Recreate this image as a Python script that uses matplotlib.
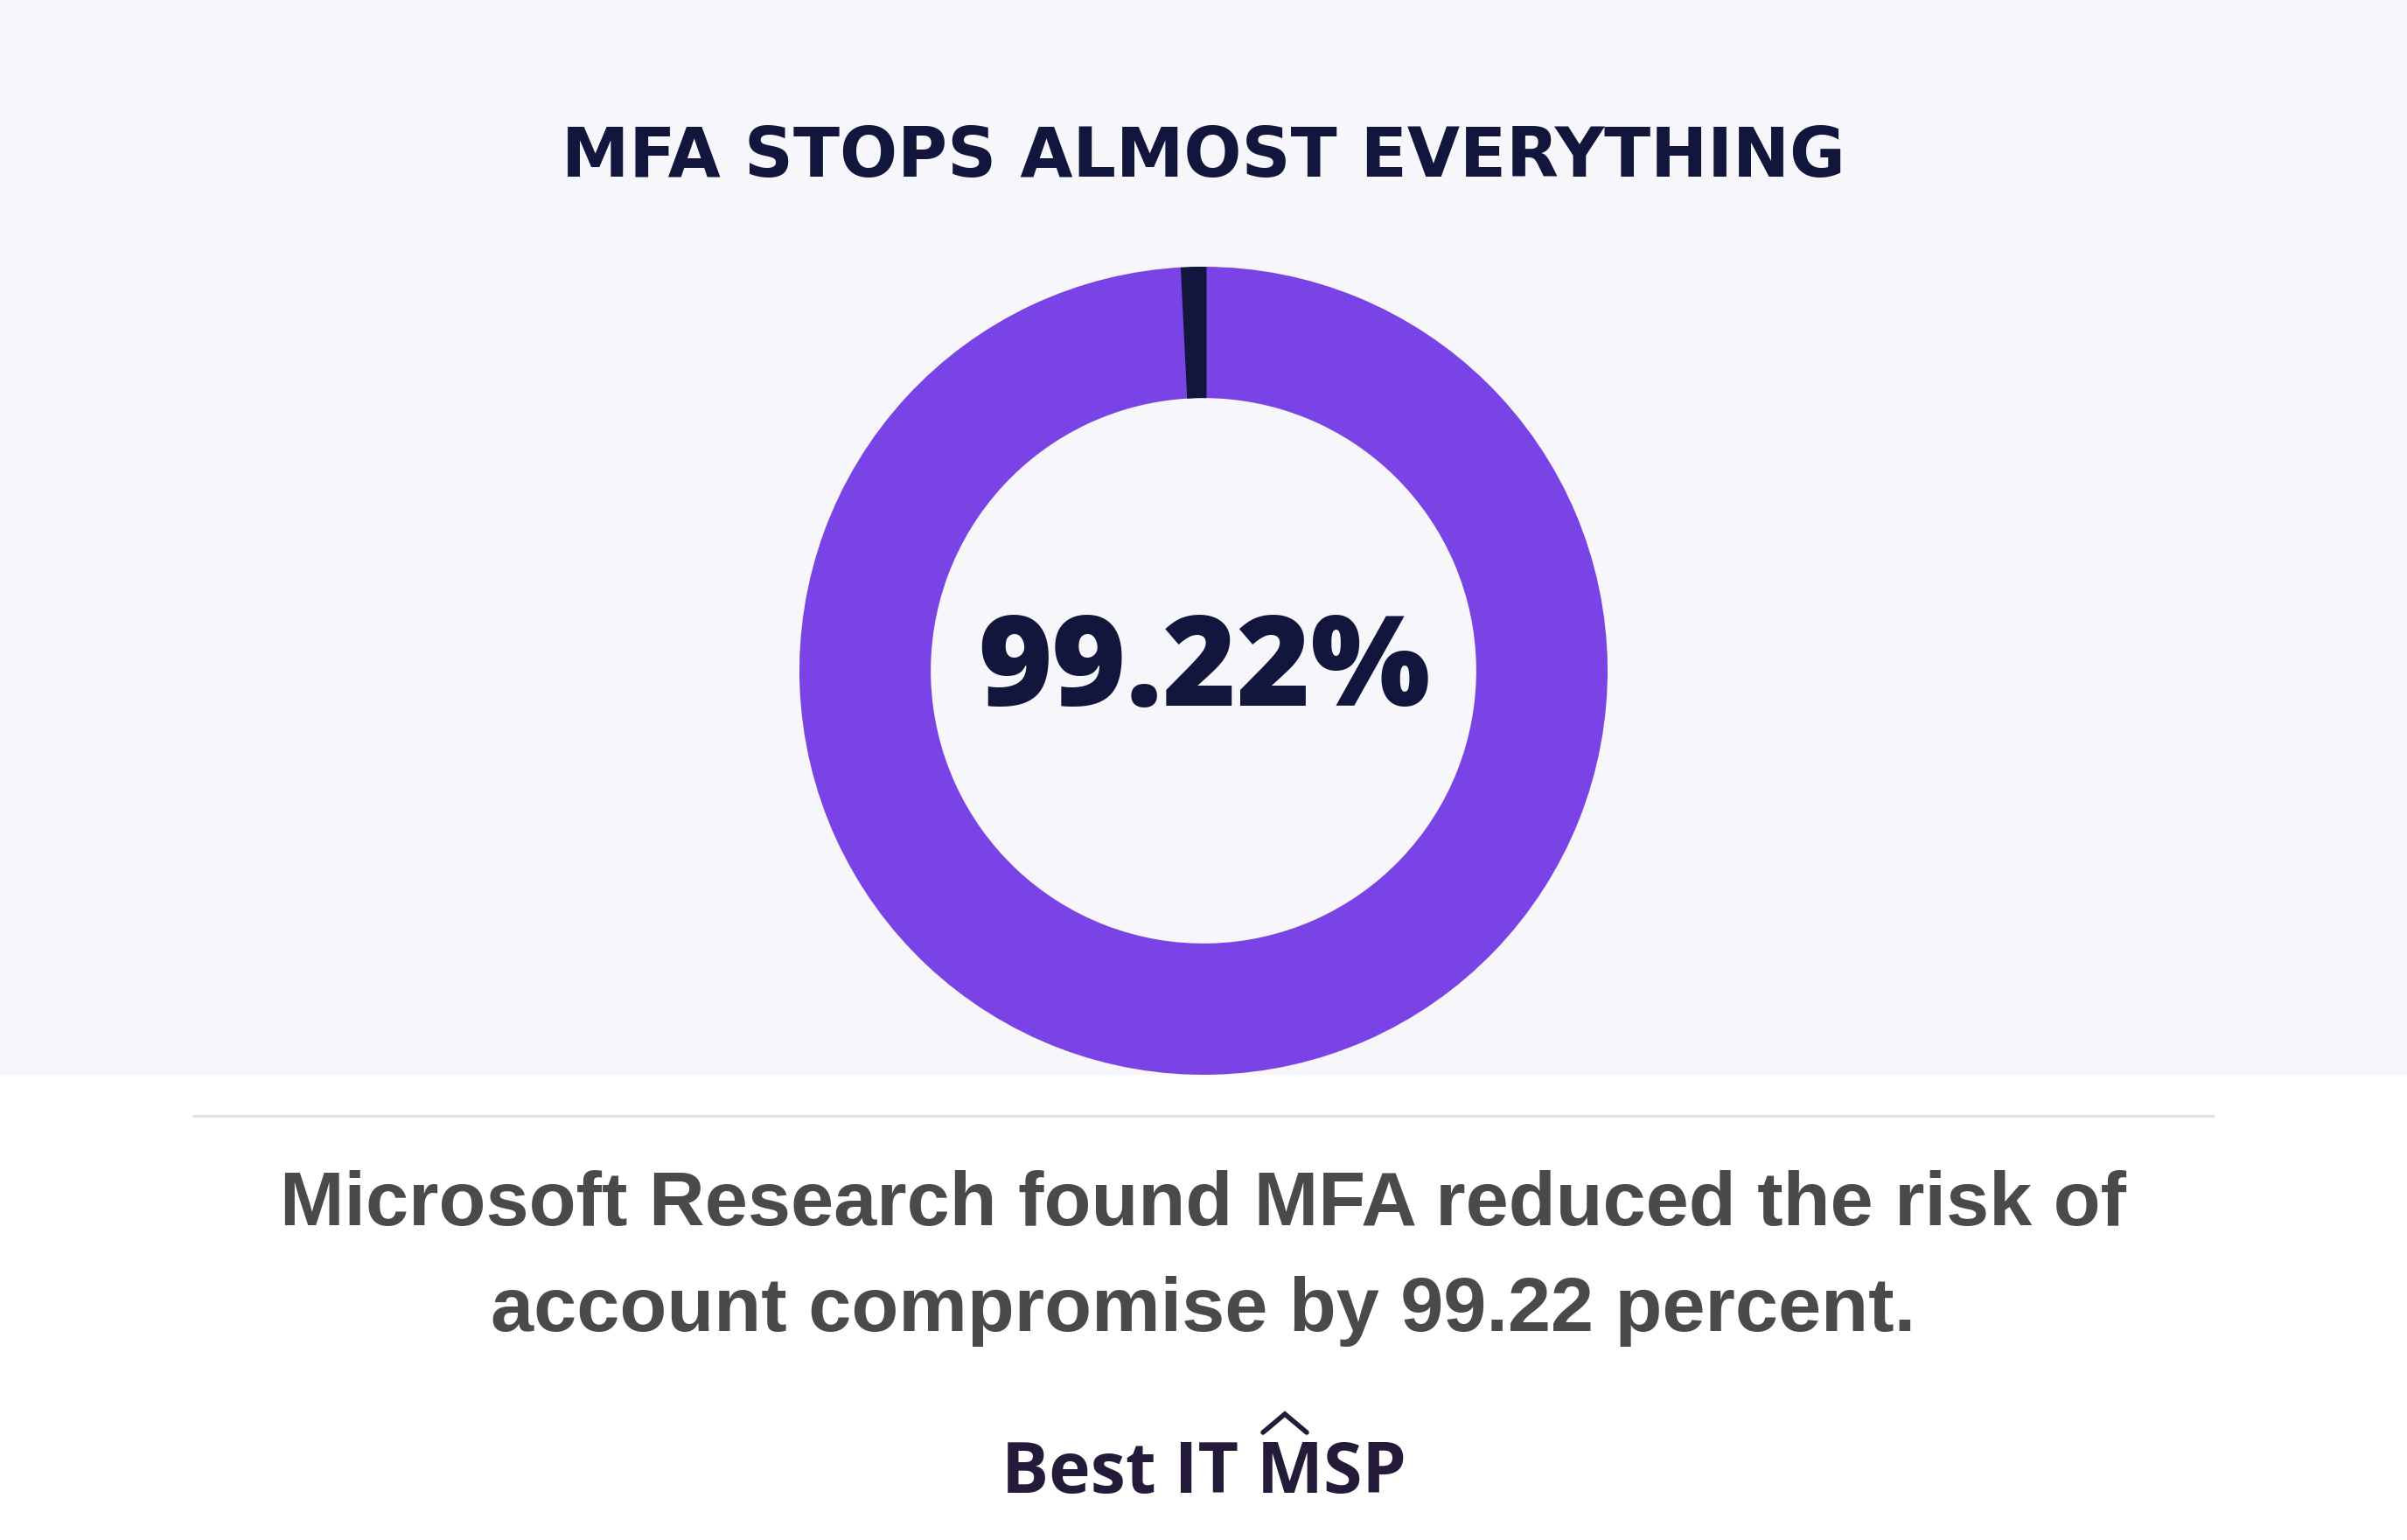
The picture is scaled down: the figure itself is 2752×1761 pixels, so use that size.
import matplotlib.pyplot as plt
from matplotlib.patches import Rectangle, Wedge

# Data
labels = ["Blocked with MFA", "Compromised"]
shares = [99.22, 0.78]
colors = ["#7a43e5", "#12163d"]

title = "MFA STOPS ALMOST EVERYTHING"
center_label = "99.22%"
caption = ["Microsoft Research found MFA reduced the risk of",
           "account compromise by 99.22 percent."]
brand = "Best IT MSP"

W, H = 2752, 1761
fig = plt.figure(figsize=(W / 100, H / 100), dpi=100, facecolor="white")

# pixel-space overlay for background, text and decoration
ax = fig.add_axes([0, 0, 1, 1])
ax.set_xlim(0, W)
ax.set_ylim(H, 0)
ax.axis("off")
ax.add_patch(Rectangle((0, 0), W, 1229, color="#f7f7fb", lw=0, zorder=0))
ax.plot([220, 2532], [1276, 1276], color="#e2e2e2", lw=2.2, solid_capstyle="butt")

ax.text(W / 2, 180, title, ha="center", va="center", fontsize=56,
        fontweight="bold", family=["DejaVu Sans"], color="#12163d")
ax.text(1377, 770, center_label, ha="center", va="center", fontsize=104,
        fontweight="heavy", family=["Open Sans", "DejaVu Sans"], color="#12163d")
ax.text(W / 2, 1379, caption[0], ha="center", va="center", fontsize=63.5,
        fontweight="bold", family=["Liberation Sans", "DejaVu Sans"], color="#4a4a4a")
ax.text(W / 2, 1499, caption[1], ha="center", va="center", fontsize=63.5,
        fontweight="bold", family=["Liberation Sans", "DejaVu Sans"], color="#4a4a4a")
ax.text(1376, 1686, brand, ha="center", va="center", fontsize=58,
        fontweight="bold", family=["Open Sans", "DejaVu Sans"], color="#241b3b")
# little roof over the M of the logo
ax.plot([1444, 1469, 1494], [1638, 1617, 1638], color="#241b3b", lw=4,
        solid_capstyle="round", solid_joinstyle="miter")

# donut
cx, cy, r = 1376, 767, 462
pax = fig.add_axes([(cx - r) / W, (H - cy - r) / H, 2 * r / W, 2 * r / H])
ring = 0.325
wedges, _ = pax.pie(shares, colors=colors, startangle=90, counterclock=False,
                    radius=1, wedgeprops=dict(width=ring, linewidth=0))
pax.set_xlim(-1, 1)
pax.set_ylim(-1, 1)
pax.set_aspect("equal")
pax.axis("off")

# the thin slice reads a bit wider in the original: thicken it, clipped to the ring
clip = Wedge((0, 0), 1, 0, 360, width=ring, transform=pax.transData)
thin = wedges[1]
thin.set_edgecolor(colors[1])
thin.set_linewidth(5)
thin.set_zorder(3)
thin.set_clip_on(True)
thin.set_clip_path(clip)

fig.savefig("out.png", dpi=100, facecolor="white")
